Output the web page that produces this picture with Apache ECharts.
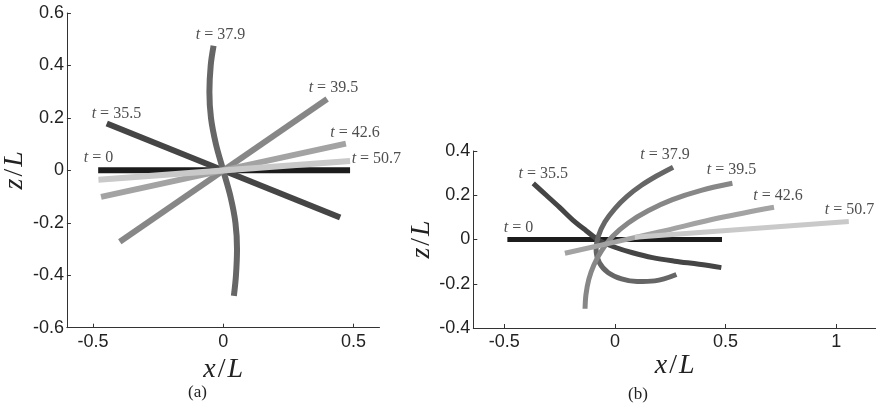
<!DOCTYPE html>
<html>
<head>
<meta charset="utf-8">
<script src="https://cdn.jsdelivr.net/npm/echarts@6/dist/echarts.min.js"></script>
<style>
  html, body { margin: 0; padding: 0; background: #fff; }
  #chart { width: 876px; height: 409px; }
</style>
</head>
<body>
<div id="chart"></div>
<script>
// time stamps of the filament snapshots
const tTags = ['0', '35.5', '37.9', '39.5', '42.6', '50.7'];

// panel (a) shapes, [x/L, z/L]
const aT0   = [[-0.48, 0], [0.487, 0]];
const aT355 = [[-0.447, 0.179], [0.449, -0.18]];
const aT379 = [[-0.037, 0.475], [-0.048, 0.4], [-0.053, 0.3], [-0.047, 0.2], [-0.028, 0.1], [0, 0],
               [0.028, -0.1], [0.047, -0.2], [0.053, -0.3], [0.049, -0.4], [0.041, -0.479]];
const aT395 = [[-0.397, -0.272], [0.399, 0.272]];
const aT426 = [[-0.469, -0.101], [0.471, 0.102]];
const aT507 = [[-0.479, -0.036], [0.487, 0.036]];

// panel (b) shapes
const bT0   = [[-0.486, 0], [0.484, 0]];
const bT355 = [[-0.369, 0.254], [-0.31, 0.2], [-0.25, 0.145], [-0.19, 0.088], [-0.13, 0.04], [-0.07, -0.005],
               [0, -0.035], [0.08, -0.06], [0.17, -0.082], [0.27, -0.098], [0.38, -0.112], [0.481, -0.127]];
const bT379 = [[0.263, 0.327], [0.19, 0.288], [0.12, 0.245], [0.055, 0.195], [0, 0.14], [-0.045, 0.08],
               [-0.075, 0.015], [-0.085, -0.045], [-0.07, -0.105], [-0.03, -0.15], [0.03, -0.178],
               [0.1, -0.19], [0.18, -0.187], [0.278, -0.158]];
const bT395 = [[-0.135, -0.313], [-0.131, -0.25], [-0.118, -0.18], [-0.095, -0.115], [-0.06, -0.05],
               [-0.01, 0.015], [0.06, 0.075], [0.15, 0.13], [0.26, 0.18], [0.39, 0.222], [0.531, 0.254]];
const bT426 = [[-0.226, -0.062], [0.2, 0.034], [0.474, 0.098], [0.719, 0.146]];
const bT507 = [[0.09, 0.01], [1.057, 0.081]];

// where the t = ... tags sit (data coords)
const aTagPos = [[-0.479, 0.049], [-0.41, 0.215], [-0.01, 0.516], [0.423, 0.314], [0.506, 0.144], [0.588, 0.043]];
const bTagPos = [[-0.436, 0.053], [-0.324, 0.296], [0.226, 0.383], [0.527, 0.314], [0.737, 0.198], [1.06, 0.134]];

// tick values
const aXTicks = [-0.5, 0, 0.5];
const aYTicks = [-0.6, -0.4, -0.2, 0, 0.2, 0.4, 0.6];
const bXTicks = [-0.5, 0, 0.5, 1];
const bYTicks = [-0.4, -0.2, 0, 0.2, 0.4];

const shades = ['#1c1c1c', '#454545', '#666666', '#878787', '#a3a3a3', '#c9c9c9'];
const serif = 'Liberation Serif';
const sans = 'Liberation Sans';

const nameRich = {
    i: { fontFamily: serif, fontStyle: 'italic', fontSize: 28, color: '#222' },
    n: { fontFamily: serif, fontSize: 28, color: '#222', padding: [0, 2, 0, 2] }
};

function xAxisCfg(gridIndex, min, max, ticks) {
    return {
        type: 'value', gridIndex, min, max,
        name: '{i|x}{n|/}{i|L}', nameLocation: 'middle', nameGap: 17,
        nameTextStyle: { rich: nameRich },
        axisLine: { show: true, onZero: false, lineStyle: { color: '#333', width: 1 } },
        axisTick: { show: true, inside: true, length: 4, customValues: ticks, lineStyle: { color: '#333' } },
        axisLabel: {
            customValues: ticks, margin: 5, fontFamily: sans, fontSize: 18, color: '#222',
            formatter: v => String(v)
        },
        splitLine: { show: false }
    };
}

function yAxisCfg(gridIndex, min, max, ticks, gap) {
    return {
        type: 'value', gridIndex, min, max,
        name: '{i|z}{n|/}{i|L}', nameLocation: 'middle', nameGap: gap, nameRotate: 90,
        nameTextStyle: { rich: nameRich },
        axisLine: { show: true, onZero: false, lineStyle: { color: '#333', width: 1 } },
        axisTick: { show: true, inside: true, length: 4, customValues: ticks, lineStyle: { color: '#333' } },
        axisLabel: {
            customValues: ticks, margin: 3, fontFamily: sans, fontSize: 18, color: '#222',
            formatter: v => (Math.abs(v) < 1e-9 ? '0' : v.toFixed(1))
        },
        splitLine: { show: false }
    };
}

function shapeSeries(data, idx, panel, width) {
    return {
        type: 'line', xAxisIndex: panel, yAxisIndex: panel,
        data, smooth: data.length > 2 ? 0.35 : false,
        symbol: 'none', silent: true,
        lineStyle: { color: shades[idx], width, cap: 'butt', join: 'round' },
        z: 2 + idx
    };
}

function tagSeries(pos, panel) {
    return {
        type: 'scatter', xAxisIndex: panel, yAxisIndex: panel,
        symbolSize: 0, silent: true, z: 20,
        data: pos.map((p, i) => ({ value: p, tag: tTags[i] })),
        label: {
            show: true, position: 'inside',
            formatter: p => '{i|t}{n| = ' + p.data.tag + '}',
            rich: {
                i: { fontFamily: serif, fontStyle: 'italic', fontSize: 16, color: '#222' },
                n: { fontFamily: serif, fontSize: 16, color: '#222' }
            }
        }
    };
}

const aShapes = [aT0, aT355, aT379, aT395, aT426, aT507];
const bShapes = [bT0, bT355, bT379, bT395, bT426, bT507];

const series = [];
aShapes.forEach((d, i) => series.push(shapeSeries(d, i, 0, 6)));
bShapes.forEach((d, i) => series.push(shapeSeries(d, i, 1, 5)));
series.push(tagSeries(aTagPos, 0));
series.push(tagSeries(bTagPos, 1));

const chart = echarts.init(document.getElementById('chart'), null, { renderer: 'canvas' });
chart.setOption({
    animation: false,
    backgroundColor: '#fff',
    grid: [
        { left: 63.5, top: 13, width: 316, height: 314.7 },
        { left: 473.3, top: 151, width: 403.3, height: 177 }
    ],
    xAxis: [xAxisCfg(0, -0.6, 0.6, aXTicks), xAxisCfg(1, -0.64, 1.18, bXTicks)],
    yAxis: [yAxisCfg(0, -0.6, 0.6, aYTicks, 30), yAxisCfg(1, -0.4, 0.4, bYTicks, 28)],
    graphic: [
        { type: 'text', left: 188, top: 384, style: { text: '(a)', fontFamily: serif, fontSize: 17, fill: '#222' } },
        { type: 'text', left: 628, top: 386, style: { text: '(b)', fontFamily: serif, fontSize: 17, fill: '#222' } }
    ],
    series
});
</script>
</body>
</html>
